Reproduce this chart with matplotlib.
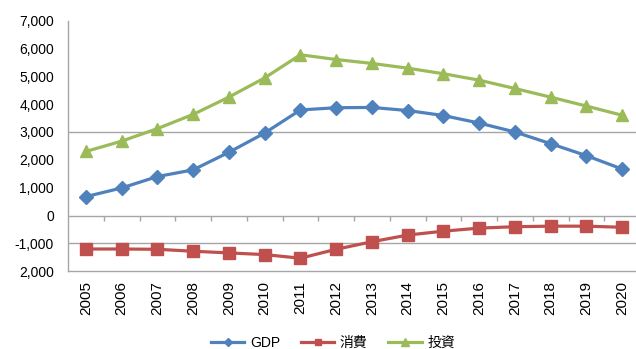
import numpy as np
import matplotlib.pyplot as plt

plt.rcParams['font.family'] = ['Liberation Sans', 'Noto Sans CJK JP', 'DejaVu Sans']

# データ
years = [str(y) for y in range(2005, 2021)]
gdp = [680, 990, 1400, 1640, 2270, 2960, 3790, 3870, 3880, 3770, 3590, 3320, 3000, 2580, 2150, 1670]
consumption = [-1200, -1200, -1210, -1280, -1340, -1400, -1530, -1210, -940, -700, -560, -450, -400, -380, -380, -420]
investment = [2300, 2670, 3120, 3630, 4250, 4940, 5770, 5600, 5460, 5290, 5090, 4860, 4560, 4250, 3930, 3600]

series_names = ['GDP', '消費', '投資']
colors = ['#4F81BD', '#C0504D', '#9BBB59']
markers = ['D', 's', '^']
marker_sizes = [7, 8, 9]

y_ticks = [7000, 6000, 5000, 4000, 3000, 2000, 1000, 0, -1000, -2000]
y_labels = ['7,000', '6,000', '5,000', '4,000', '3,000', '2,000', '1,000', '0', '-1,000', '2,000']

fig = plt.figure(figsize=(6.36, 3.49), dpi=100)
ax = fig.add_axes([68 / 636, 1 - 271.3 / 349, 572 / 636, 250.8 / 349])

x = np.arange(len(years))
for vals, name, c, m, ms in zip([gdp, consumption, investment], series_names, colors, markers, marker_sizes):
    ax.plot(x, vals, color=c, lw=2.3, marker=m, ms=ms, mec=c, mfc=c, label=name, zorder=3)

ax.set_xlim(-0.5, len(years) - 0.5)
ax.set_ylim(-2000, 7000)

# 補助線
grid_c = '#A6A6A6'
for gy in [3000, -1000]:
    ax.axhline(gy, color=grid_c, lw=1.0, zorder=1)
ax.axhline(0, color=grid_c, lw=1.0, zorder=1)
# 0 の軸上の目盛り
ax.vlines(np.arange(0.5, len(years) - 0.5), -180, 0, color=grid_c, lw=1.0, zorder=1)

for side in ['top', 'right']:
    ax.spines[side].set_visible(False)
for side in ['left', 'bottom']:
    ax.spines[side].set_color(grid_c)
    ax.spines[side].set_linewidth(1.0)

ax.set_yticks(y_ticks)
ax.set_yticklabels(y_labels, fontsize=10)
ax.set_xticks(x)
ax.set_xticklabels(years, rotation=90, fontsize=11)
ax.tick_params(axis='y', length=0, pad=10)
ax.tick_params(axis='x', length=0, pad=7)

leg = fig.legend(loc='center', bbox_to_anchor=(333 / 636, 1 - 343 / 349), ncol=3,
                 frameon=False, fontsize=10, handlelength=2.4, handletextpad=0.4,
                 columnspacing=1.5, markerscale=0.6)

fig.savefig('out.png', dpi=100)
